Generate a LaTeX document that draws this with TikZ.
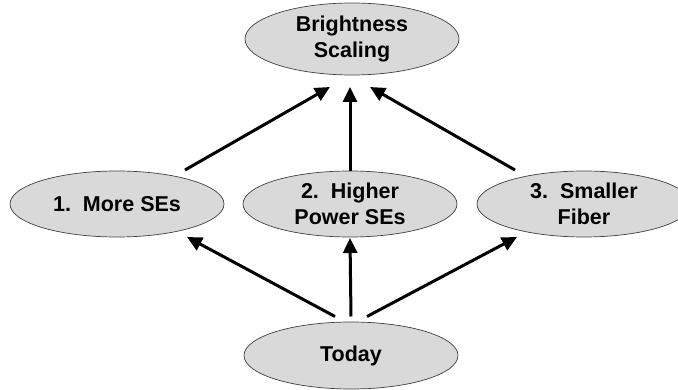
\documentclass[tikz,border=0pt]{standalone}
\usepackage{fontspec}
\setmainfont{Liberation Sans}
\usetikzlibrary{shapes.geometric,arrows.meta}
\begin{document}
\begin{tikzpicture}[x=1pt,y=-1pt,
  oval/.style={ellipse,draw=black!75,line width=0.7pt,fill=black!15,
    minimum width=214pt,minimum height=66pt,inner sep=0pt,outer sep=0pt,
    align=center,font=\fontsize{21.5}{26}\selectfont\bfseries},
  arr/.style={line width=3pt,-{Triangle[length=15pt,width=14pt]}}]
\useasboundingbox (0,0) rectangle (678,390);
\begin{scope}
\clip (0,0) rectangle (678,390);
\node[oval,minimum height=72pt] (top) at (352,39) {Brightness\\Scaling};
\node[oval] (m1) at (117,204) {1.~~More SEs};
\node[oval] (m2) at (350,204) {2.~~Higher\\Power SEs};
\node[oval] (m3) at (584,204) {3.~~Smaller\\Fiber};
\node[oval,minimum height=67pt] (today) at (351,355.5) {Today};
\end{scope}
\draw[arr] ([shift={(68,-34)}]m1.center) -- ([shift={(-22,48)}]top.center);
\draw[arr] ([shift={(0,-33)}]m2.center) -- ([shift={(-2,48)}]top.center);
\draw[arr] ([shift={(-69,-34)}]m3.center) -- ([shift={(18,48)}]top.center);
\draw[arr] ([shift={(-16,-39)}]today.center) -- ([shift={(70,33)}]m1.center);
\draw[arr] ([shift={(0,-39)}]today.center) -- ([shift={(0,34)}]m2.center);
\draw[arr] ([shift={(16,-39)}]today.center) -- ([shift={(-67,33)}]m3.center);
\end{tikzpicture}
\end{document}
